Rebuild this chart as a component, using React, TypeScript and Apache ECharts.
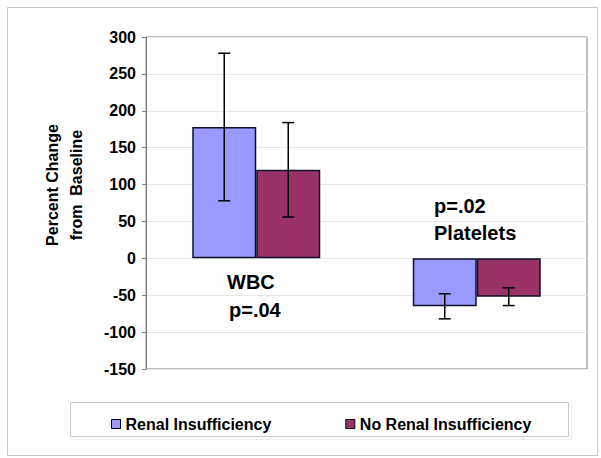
import React, { useEffect, useRef } from "react";
import * as echarts from "echarts";

const categories = ["WBC", "Platelets"];
const renalValues = [178, -65];
const renalErrors = [100, 17];
const noRenalValues = [120, -52];
const noRenalErrors = [64, 12];
const seriesNames = ["Renal Insufficiency", "No Renal Insufficiency"];
const yTicks = { min: -150, max: 300, interval: 50 };

const BAR_W = 64;
const FONT = "Arial, 'Liberation Sans', sans-serif";

function errorSeries(values: number[], errors: number[], side: number) {
  return {
    type: "custom",
    z: 10,
    silent: true,
    encode: { x: 0, y: 1 },
    data: values.map((v, i) => [i, v, errors[i]]),
    renderItem: (params: any, api: any) => {
      const idx = api.value(0);
      const v = api.value(1);
      const e = api.value(2);
      const c = api.coord([idx, v]);
      const x = c[0] + side * BAR_W / 2;
      const hi = api.coord([idx, v + e])[1];
      const lo = api.coord([idx, v - e])[1];
      const style = { stroke: "#000", lineWidth: 1.5 };
      return {
        type: "group",
        children: [
          { type: "line", shape: { x1: x, y1: hi, x2: x, y2: lo }, style },
          { type: "line", shape: { x1: x - 6, y1: hi, x2: x + 6, y2: hi }, style },
          { type: "line", shape: { x1: x - 6, y1: lo, x2: x + 6, y2: lo }, style },
        ],
      };
    },
  };
}

export default function App() {
  const ref = useRef<HTMLDivElement>(null);
  useEffect(() => {
    if (!ref.current) return;
    const chart = echarts.init(ref.current, null, { renderer: "svg" });
    const annText = (text: string, x: number, y: number, size = 20) => ({
      type: "text",
      x,
      y,
      style: {
        text,
        fill: "#000",
        font: `bold ${size}px ${FONT}`,
        textAlign: "left",
        textVerticalAlign: "middle",
      },
    });
    chart.setOption({
      animation: false,
      backgroundColor: "#fff",
      textStyle: { fontFamily: FONT },
      grid: {
        left: 146,
        top: 37,
        right: 14,
        bottom: 89,
        show: true,
        borderColor: "#808080",
        borderWidth: 1,
        backgroundColor: "#fff",
      },
      xAxis: {
        type: "category",
        data: categories,
        axisLabel: { show: false },
        axisTick: { show: false },
        axisLine: { show: false },
        splitLine: { show: false },
      },
      yAxis: {
        type: "value",
        min: yTicks.min,
        max: yTicks.max,
        interval: yTicks.interval,
        axisLine: { show: true, lineStyle: { color: "#808080" } },
        axisTick: { show: true, length: 4, lineStyle: { color: "#808080" } },
        axisLabel: {
          margin: 10,
          color: "#000",
          fontSize: 16,
          fontWeight: "bold",
          fontFamily: FONT,
        },
        splitLine: { show: true, lineStyle: { color: "#e6e6e6", width: 1 } },
      },
      legend: {
        data: seriesNames,
        left: 106,
        top: 411,
        itemWidth: 9,
        itemHeight: 9,
        itemGap: 74,
        icon: "rect",
        textStyle: { color: "#000", fontSize: 16, fontWeight: "bold", fontFamily: FONT },
        itemStyle: { borderColor: "#000", borderWidth: 1 },
      },
      series: [
        {
          name: seriesNames[0],
          type: "bar",
          data: renalValues,
          barWidth: BAR_W,
          barGap: "0%",
          itemStyle: { color: "#9999FF", borderColor: "#10102a", borderWidth: 1.5 },
        },
        {
          name: seriesNames[1],
          type: "bar",
          data: noRenalValues,
          barWidth: BAR_W,
          barGap: "0%",
          itemStyle: { color: "#993366", borderColor: "#10102a", borderWidth: 1.5 },
        },
        errorSeries(renalValues, renalErrors, -1),
        errorSeries(noRenalValues, noRenalErrors, 1),
      ],
      graphic: [
        {
          type: "rect",
          shape: { x: 7.5, y: 7.5, width: 590, height: 448 },
          style: { fill: "none", stroke: "#c8c8c8", lineWidth: 1 },
          silent: true,
          z: -10,
        },
        {
          type: "rect",
          shape: { x: 73.5, y: 405.5, width: 498, height: 34 },
          style: { fill: "none", stroke: "#ececec", lineWidth: 1 },
          silent: true,
          z: -10,
        },
        {
          type: "rect",
          shape: { x: 70.5, y: 402.5, width: 498, height: 34 },
          style: { fill: "#fff", stroke: "#c8c8c8", lineWidth: 1 },
          silent: true,
          z: -9,
        },
        {
          type: "text",
          x: 64,
          y: 185,
          rotation: Math.PI / 2,
          style: {
            text: "Percent Change\nfrom  Baseline",
            fill: "#000",
            font: `bold 16px ${FONT}`,
            lineHeight: 24,
            textAlign: "center",
            textVerticalAlign: "middle",
          },
        },
        annText("WBC", 227, 282),
        annText("p=.04", 229, 310),
        annText("p=.02", 434, 206),
        annText("Platelets", 434, 233),
      ],
    });
    return () => chart.dispose();
  }, []);
  return (
    <div
      ref={ref}
      style={{ position: "fixed", left: 0, top: 0, width: 601, height: 458 }}
    />
  );
}
